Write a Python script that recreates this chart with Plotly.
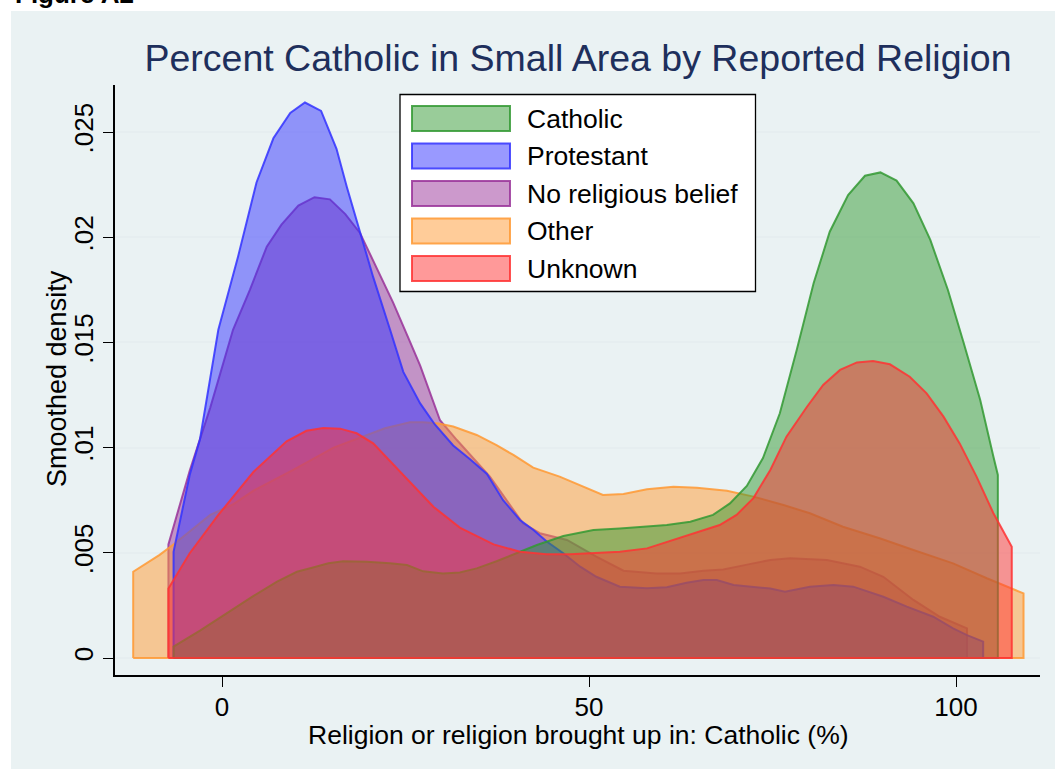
import plotly.graph_objects as go

# Kernel density estimates (x = % Catholic in small area, y = density)
catholic_x = [-6.6, -3.0, 0.6, 4.3, 7.5, 10.2, 12.4, 14.5, 16.5, 19.7, 22.9, 25.2, 27.4, 30.1,
              32.4, 34.7, 37.4, 40.6, 42.9, 46.5, 50.6, 54.2, 57.9, 60.6, 63.8, 66.9, 69.2,
              71.5, 73.7, 76.0, 78.3, 80.6, 82.8, 85.3, 87.6, 89.7, 91.9, 94.2, 96.5, 98.9,
              101.0, 103.3, 105.1, 105.7]
catholic_y = [0.00054, 0.0013, 0.00212, 0.00295, 0.00363, 0.0041, 0.0043, 0.0045, 0.0046,
              0.00457, 0.0045, 0.00442, 0.00412, 0.00402, 0.00406, 0.00426, 0.0046, 0.00505,
              0.00537, 0.0058, 0.00608, 0.00616, 0.00627, 0.00632, 0.00648, 0.0068, 0.00735,
              0.00818, 0.0095, 0.01163, 0.01464, 0.01781, 0.02026, 0.022, 0.02292, 0.02308,
              0.02269, 0.02161, 0.01987, 0.01749, 0.01503, 0.01226, 0.00957, 0.0087]

protestant_x = [-6.6, -4.4, -3.0, -0.5, 2.2, 4.7, 7.0, 9.3, 11.3, 13.5, 15.6, 17.0, 18.8,
                20.6, 22.9, 24.7, 27.0, 29.0, 31.5, 33.8, 36.1, 38.3, 40.6, 42.4, 44.2, 46.5,
                48.8, 51.0, 54.2, 57.9, 60.6, 63.3, 65.6, 67.4, 69.7, 72.4, 74.7, 76.7, 80.1,
                83.3, 86.0, 90.1, 93.3, 96.9, 99.6, 101.5, 103.7]
protestant_y = [0.00505, 0.0087, 0.0104, 0.0156, 0.0191, 0.0226, 0.0247, 0.0259, 0.0264,
                0.026, 0.0242, 0.0224, 0.0202, 0.0181, 0.0156, 0.0136, 0.0121, 0.0111,
                0.0101, 0.00945, 0.00875, 0.0075, 0.00656, 0.0061, 0.00555, 0.00498,
                0.00434, 0.00386, 0.00339, 0.00331, 0.00336, 0.00358, 0.00371, 0.00371,
                0.00347, 0.00336, 0.0033, 0.00315, 0.00339, 0.00347, 0.00339, 0.00291,
                0.00244, 0.00196, 0.00141, 0.00109, 0.00078]

noreligion_x = [-7.3, -4.4, -1.6, 1.5, 3.8, 6.1, 8.1, 10.4, 12.6, 14.7, 16.8, 18.8, 21.3,
                23.3, 25.4, 27.0, 29.7, 32.0, 36.5, 41.0, 43.3, 47.0, 51.0, 54.7, 59.2, 62.4,
                65.6, 68.3, 71.7, 74.7, 77.4, 82.4, 86.9, 90.1, 94.2, 97.8, 101.5]
noreligion_y = [0.0054, 0.0089, 0.0119, 0.0156, 0.0175, 0.01955, 0.0206, 0.0215, 0.0219,
                0.0218, 0.0211, 0.0202, 0.0184, 0.0169, 0.0152, 0.0139, 0.0113, 0.01036,
                0.00862, 0.0064, 0.00593, 0.00561, 0.00482, 0.00415, 0.00402, 0.00402,
                0.00415, 0.00421, 0.00445, 0.00466, 0.00474, 0.00466, 0.00434, 0.00386,
                0.00276, 0.00196, 0.00141]

other_x = [-12.1, -8.5, -6.4, -1.6, 1.5, 4.3, 9.7, 15.2, 19.0, 22.2, 25.6, 27.4, 29.5, 31.5,
           34.7, 37.4, 39.7, 42.4, 46.0, 48.8, 51.9, 54.7, 57.9, 61.5, 64.7, 68.8, 72.4, 76.5,
           80.1, 84.6, 89.6, 94.2, 99.6, 104.2, 109.2]
other_y = [0.0041, 0.0049, 0.00545, 0.0068, 0.0073, 0.00795, 0.00894, 0.01, 0.0105, 0.01092,
           0.0112, 0.0112, 0.01115, 0.011, 0.0106, 0.01012, 0.00965, 0.00905, 0.00862,
           0.00822, 0.00775, 0.00779, 0.00802, 0.00814, 0.00809, 0.00795, 0.00767, 0.00727,
           0.00688, 0.00624, 0.00569, 0.00513, 0.0045, 0.00379, 0.00307]

unknown_x = [-7.3, -4.4, -0.5, 4.3, 8.8, 11.5, 13.8, 16.1, 18.35, 20.6, 22.9, 25.6, 28.8,
             32.4, 37.0, 40.6, 44.2, 47.4, 50.6, 54.2, 57.9, 61.5, 65.1, 67.8, 70.1, 72.4,
             74.7, 76.9, 79.7, 81.9, 84.2, 86.5, 88.7, 91.0, 93.7, 96.0, 98.3, 100.5, 102.8,
             105.1, 107.6]
unknown_y = [0.0033, 0.00498, 0.0068, 0.00885, 0.0103, 0.0108, 0.01093, 0.0109, 0.01068,
             0.0102, 0.00935, 0.0084, 0.00719, 0.0062, 0.0054, 0.00505, 0.00493, 0.00493,
             0.00498, 0.00505, 0.00521, 0.00561, 0.00604, 0.00632, 0.0068, 0.0076, 0.00894,
             0.01052, 0.01194, 0.01298, 0.01369, 0.01405, 0.01412, 0.01396, 0.01337,
             0.01258, 0.01147, 0.0102, 0.00862, 0.00688, 0.00529]

# legend order
series_names = ["Catholic", "Protestant", "No religious belief", "Other", "Unknown"]
series_x = [catholic_x, protestant_x, noreligion_x, other_x, unknown_x]
series_y = [catholic_y, protestant_y, noreligion_y, other_y, unknown_y]
series_rgb = [(51, 153, 51), (51, 51, 255), (153, 51, 153), (255, 153, 51), (255, 51, 51)]
# stacking order of the translucent areas (first = bottom)
draw_order = [2, 3, 1, 0, 4]

x_ticks = [0, 50, 100]
y_ticks = [0, 0.005, 0.01, 0.015, 0.02, 0.025]
y_ticklabels = ["0", ".005", ".01", ".015", ".02", ".025"]

FONT = "Liberation Sans, Arial, sans-serif"
W, H = 1055, 769
PL, PT, PR, PB = 115, 85, 1040, 675  # plot area in pixels
PW, PH = PR - PL, PB - PT


def px(x):
    return (x - PL) / PW


def py(y):
    return (PB - y) / PH


def rgba(c, a):
    return f"rgba({c[0]},{c[1]},{c[2]},{a})"


fig = go.Figure()

for k in draw_order:
    name, xs, ys, c = series_names[k], series_x[k], series_y[k], series_rgb[k]
    # closed outline: up from the baseline, along the curve, down and back along y = 0
    poly_x = [xs[0]] + list(xs) + [xs[-1], xs[0]]
    poly_y = [0] + list(ys) + [0, 0]
    fig.add_trace(go.Scatter(
        x=poly_x, y=poly_y, mode="lines", fill="toself", name=name,
        fillcolor=rgba(c, 0.5), line=dict(color=rgba(c, 0.85), width=2),
        showlegend=False, hoverinfo="skip",
    ))

shapes = [
    # graph region background
    dict(type="rect", xref="paper", yref="paper", x0=px(11), x1=px(W + 5),
         y0=py(H + 5), y1=py(11), fillcolor="#eaf2f3", line=dict(width=0), layer="below"),
    # legend frame
    dict(type="rect", xref="paper", yref="paper", x0=px(400), x1=px(755.5),
         y0=py(291.5), y1=py(94.5), fillcolor="white",
         line=dict(color="black", width=1.3), layer="above"),
]
annotations = []
row0, row_step = 118.5, 37.5
for i, (name, c) in enumerate(zip(series_names, series_rgb)):
    cy = row0 + i * row_step
    shapes.append(dict(type="rect", xref="paper", yref="paper",
                       x0=px(412), x1=px(510), y0=py(cy + 12.5), y1=py(cy - 12.5),
                       fillcolor=rgba(c, 0.5), line=dict(color=rgba(c, 0.85), width=2),
                       layer="above"))
    annotations.append(dict(xref="paper", yref="paper", x=px(525), y=py(cy),
                            xanchor="left", yanchor="middle", text=name, showarrow=False,
                            font=dict(family=FONT, size=26.5, color="black")))

# axis titles
annotations.append(dict(xref="paper", yref="paper", x=px(578), y=py(735),
                        xanchor="center", yanchor="middle", showarrow=False,
                        text="Religion or religion brought up in: Catholic (%)",
                        font=dict(family=FONT, size=26.5, color="black")))
annotations.append(dict(xref="paper", yref="paper", x=px(57), y=py(379),
                        xanchor="center", yanchor="middle", showarrow=False,
                        textangle=-90, text="Smoothed density",
                        font=dict(family=FONT, size=27, color="black")))

annotations.append(dict(xref="paper", yref="paper", x=px(13), y=py(-6),
                        xanchor="left", yanchor="middle", text="<b>Figure A2</b>",
                        showarrow=False, font=dict(family=FONT, size=26, color="black")))

fig.update_layout(
    width=W, height=H,
    margin=dict(l=PL, r=W - PR, t=PT, b=H - PB, pad=0),
    paper_bgcolor="white", plot_bgcolor="white",
    showlegend=False,
    title=dict(text="Percent Catholic in Small Area by Reported Religion",
               x=px(578), xref="paper", xanchor="center",
               y=1 - 58 / H, yref="container", yanchor="middle",
               font=dict(family=FONT, size=37.5, color="#1e2f5c")),
    shapes=shapes, annotations=annotations,
    xaxis=dict(range=[(PL - 222) / 7.34, (PR - 222) / 7.34], tickvals=x_ticks,
               ticks="outside", ticklen=10, tickwidth=1.3, tickcolor="black",
               showline=True, linecolor="black", linewidth=1.5,
               showgrid=False, zeroline=False, ticklabelstandoff=-2,
               tickfont=dict(family=FONT, size=26, color="black")),
    yaxis=dict(range=[-(PB - 658) / 21040, (658 - PT) / 21040], tickvals=y_ticks,
               ticktext=y_ticklabels, tickangle=-90,
               ticks="outside", ticklen=10, tickwidth=1.3, tickcolor="black",
               showline=True, linecolor="black", linewidth=1.5,
               showgrid=True, gridcolor="#e6eef0", gridwidth=1.5, zeroline=False,
               tickfont=dict(family=FONT, size=26, color="black")),
)

fig.write_html("out.html")
